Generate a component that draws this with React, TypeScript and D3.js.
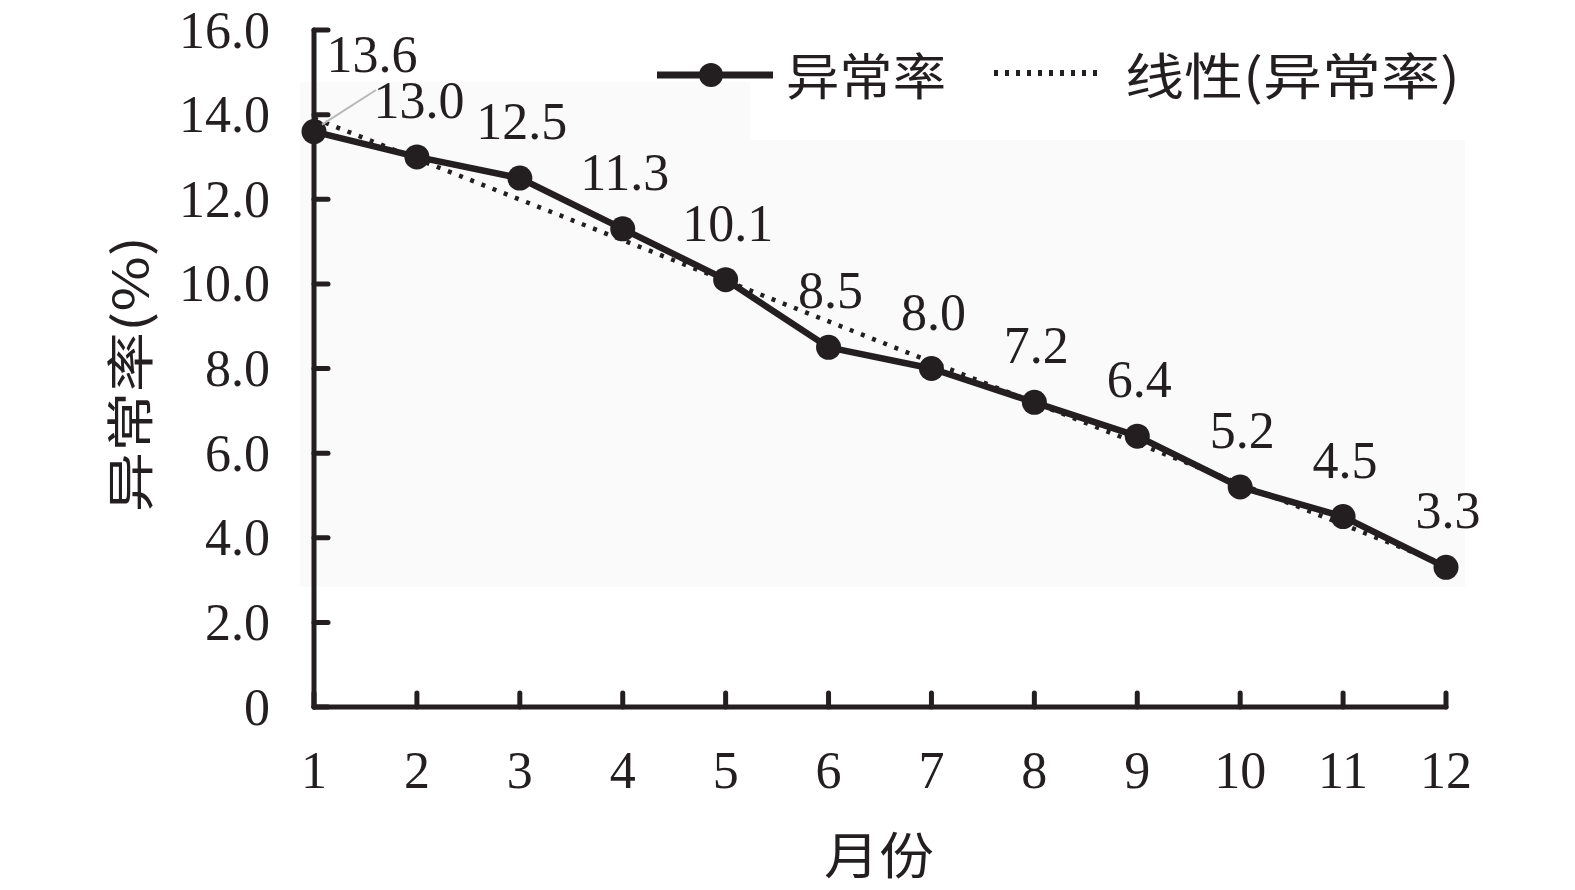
import React from "react";
import * as d3 from "d3";

const months: number[] = [1, 2, 3, 4, 5, 6, 7, 8, 9, 10, 11, 12];
const rates: number[] = [13.6, 13.0, 12.5, 11.3, 10.1, 8.5, 8.0, 7.2, 6.4, 5.2, 4.5, 3.3];
const yTicks: number[] = [0, 2, 4, 6, 8, 10, 12, 14, 16];
const yTickLabels: string[] = ["0", "2.0", "4.0", "6.0", "8.0", "10.0", "12.0", "14.0", "16.0"];
const xTickLabels: string[] = ["1", "2", "3", "4", "5", "6", "7", "8", "9", "10", "11", "12"];
const seriesName = "异常率";
const trendName = "线性(异常率)";
const xTitle = "月份";
const yTitle = "异常率(%)";

const INK = "#231f20";
const SERIF = "'Liberation Serif', 'DejaVu Serif', serif";
const CJK = "'Noto Sans CJK SC', 'Noto Sans', sans-serif";

export default function App() {
  const W = 1575, H = 890;
  const x = d3.scaleLinear().domain([1, 12]).range([314, 1446]);
  const y = d3.scaleLinear().domain([0, 16]).range([707, 30]);

  // linear regression trend
  const mx = d3.mean(months)!;
  const my = d3.mean(rates)!;
  const sxy = d3.sum(months, (m, i) => (m - mx) * (rates[i] - my));
  const sxx = d3.sum(months, (m) => (m - mx) * (m - mx));
  const slope = sxy / sxx;
  const icpt = my - slope * mx;
  const trend = months.map((m) => [m, icpt + slope * m] as [number, number]);

  const line = d3
    .line<[number, number]>()
    .x((d) => x(d[0]))
    .y((d) => y(d[1]));
  const pts = months.map((m, i) => [m, rates[i]] as [number, number]);

  const bgPath = `M300,82 H750 V140 H1465 V587 H300 Z`;

  return (
    <svg
      width={W}
      height={H}
      style={{ position: "absolute", left: 0, top: 0, background: "#fff" }}
    >
      <path d={bgPath} fill="#fafafa" />

      {/* trend line */}
      <path
        d={line(trend) || ""}
        fill="none"
        stroke={INK}
        strokeWidth={4.5}
        strokeDasharray="4 8"
      />

      {/* axes */}
      <g stroke={INK} strokeWidth={5} strokeLinecap="round" fill="none">
        <line x1={x(1)} x2={x(1)} y1={y(0)} y2={y(16)} />
        <line x1={x(1)} x2={x(12)} y1={y(0)} y2={y(0)} />
        {yTicks.map((t) => (
          <line key={"yt" + t} x1={x(1)} x2={x(1) + 14} y1={y(t)} y2={y(t)} />
        ))}
        {months.map((m) => (
          <line key={"xt" + m} x1={x(m)} x2={x(m)} y1={y(0)} y2={y(0) - 14} />
        ))}
      </g>

      {/* y tick labels */}
      {yTicks.map((t, i) => (
        <text
          key={"yl" + t}
          x={270}
          y={y(t)}
          textAnchor="end"
          dominantBaseline="central"
          fontFamily={SERIF}
          fontSize={52}
          fill={INK}
        >
          {yTickLabels[i]}
        </text>
      ))}

      {/* x tick labels */}
      {months.map((m, i) => (
        <text
          key={"xl" + m}
          x={x(m)}
          y={788}
          textAnchor="middle"
          fontFamily={SERIF}
          fontSize={52}
          fill={INK}
        >
          {xTickLabels[i]}
        </text>
      ))}

      {/* main series */}
      <path d={line(pts) || ""} fill="none" stroke={INK} strokeWidth={6.5} strokeLinejoin="round" />
      {pts.map((p) => (
        <circle key={"c" + p[0]} cx={x(p[0])} cy={y(p[1])} r={12.5} fill={INK} />
      ))}

      {/* data labels */}
      <line x1={x(1) + 8} y1={y(rates[0]) - 7} x2={376} y2={90} stroke="#b8b8b8" strokeWidth={2} />
      {pts.map((p, i) =>
        i === 0 ? (
          <text
            key={"dl" + i}
            x={372}
            y={72}
            textAnchor="middle"
            fontFamily={SERIF}
            fontSize={52}
            fill={INK}
          >
            {p[1].toFixed(1)}
          </text>
        ) : (
          <text
            key={"dl" + i}
            x={x(p[0]) + 2}
            y={y(p[1]) - 39}
            textAnchor="middle"
            fontFamily={SERIF}
            fontSize={52}
            fill={INK}
          >
            {p[1].toFixed(1)}
          </text>
        )
      )}

      {/* legend */}
      <line x1={657} x2={773} y1={75} y2={75} stroke={INK} strokeWidth={7} />
      <circle cx={711} cy={75} r={12} fill={INK} />
      <text
        x={786}
        y={73}
        dominantBaseline="central"
        fontFamily={CJK}
        fontSize={50}
        textLength={160}
        lengthAdjust="spacingAndGlyphs"
        fill={INK}
      >
        {seriesName}
      </text>
      <line x1={994} x2={1104} y1={73} y2={73} stroke={INK} strokeWidth={6} strokeDasharray="4 7" />
      <text
        x={1125}
        y={73}
        dominantBaseline="central"
        fontFamily={CJK}
        fontSize={50}
        textLength={335}
        lengthAdjust="spacingAndGlyphs"
        fill={INK}
      >
        {trendName}
      </text>

      {/* axis titles */}
      <text
        x={879}
        y={852}
        textAnchor="middle"
        dominantBaseline="central"
        fontFamily={CJK}
        fontSize={50}
        textLength={110}
        lengthAdjust="spacingAndGlyphs"
        fill={INK}
      >
        {xTitle}
      </text>
      <text
        transform={`translate(127,374) rotate(-90)`}
        textAnchor="middle"
        dominantBaseline="central"
        fontFamily={CJK}
        fontSize={48}
        textLength={276}
        lengthAdjust="spacingAndGlyphs"
        fill={INK}
      >
        {yTitle}
      </text>
    </svg>
  );
}
